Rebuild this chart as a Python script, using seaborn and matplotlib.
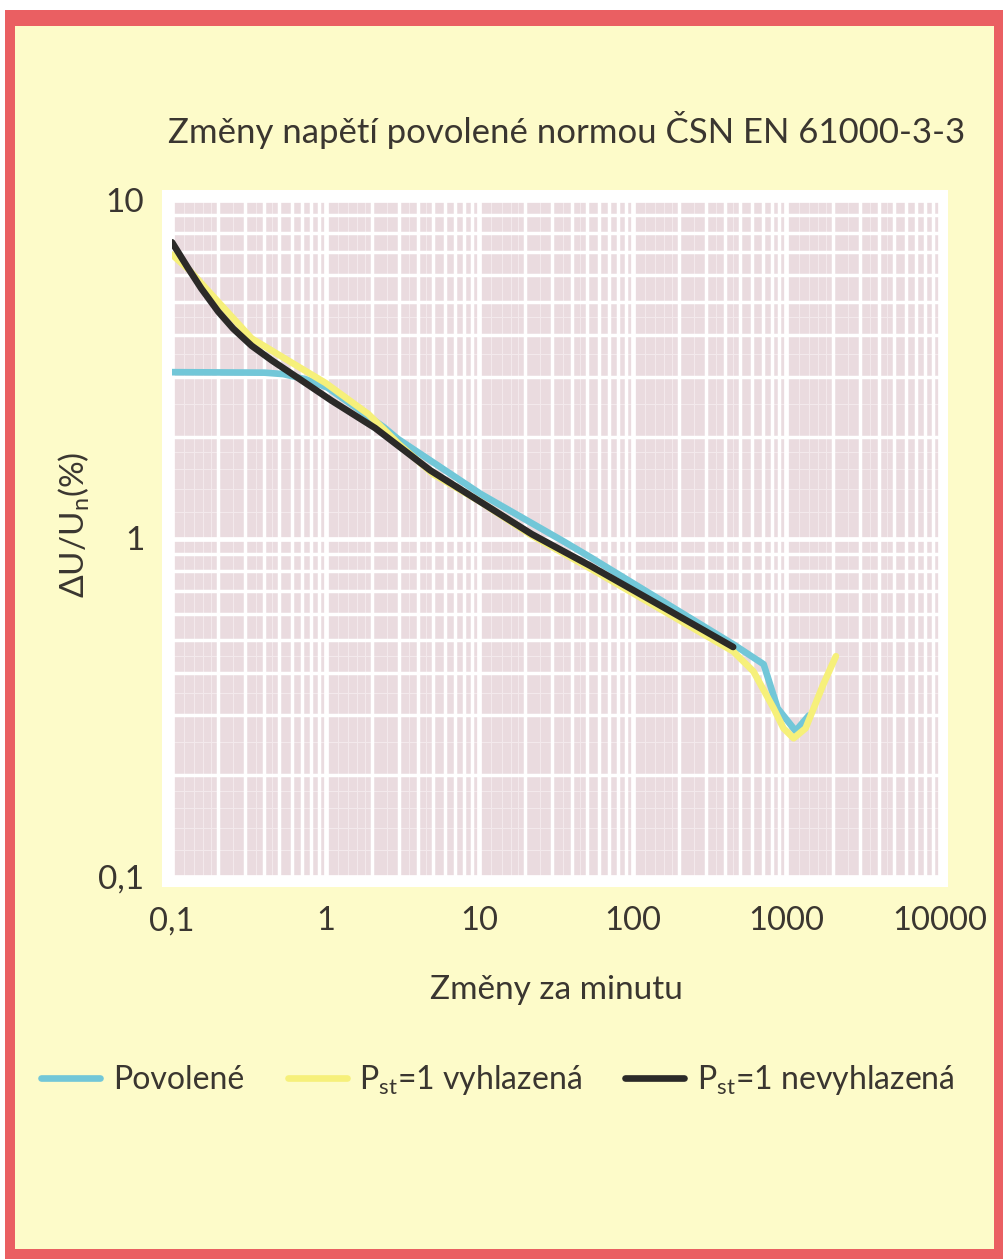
import numpy as np
import pandas as pd
import matplotlib
matplotlib.use("Agg")
import matplotlib.pyplot as plt
from matplotlib.patches import Rectangle
from matplotlib.ticker import FixedLocator, FixedFormatter, NullFormatter, LogLocator
import seaborn as sns

# --- data -------------------------------------------------------------------
# Povolené (permitted) voltage changes
povolene_x = [0.1, 0.4, 0.53, 0.75, 1.03, 2.4, 2.95, 10.2, 35.5, 53, 454, 711, 877, 1148, 1400]
povolene_y = [3.1, 3.09, 3.06, 2.95, 2.79, 2.13, 1.97, 1.355, 0.98, 0.88, 0.486, 0.425, 0.315, 0.27, 0.30]

# Pst = 1, smoothed
vyhlazena_x = [0.1, 0.13, 0.2, 0.33, 0.6, 1.0, 1.9, 3.0, 5.0, 10, 22, 53, 150, 450,
               610, 678, 826, 957, 1114, 1333, 1740, 2100]
vyhlazena_y = [6.9, 6.2, 5.0, 3.9, 3.31, 2.88, 2.33, 1.9, 1.55, 1.29, 1.02, 0.815, 0.62, 0.464,
               0.405, 0.371, 0.315, 0.275, 0.257, 0.275, 0.371, 0.449]

# Pst = 1, not smoothed
nevyhlazena_x = [0.1, 0.127, 0.155, 0.2, 0.25, 0.33, 0.45, 0.6, 1.1, 2.1, 4.8, 10, 22, 53, 150, 450]
nevyhlazena_y = [7.5, 6.3, 5.48, 4.68, 4.17, 3.71, 3.35, 3.07, 2.55, 2.12, 1.59, 1.29, 1.03, 0.83, 0.635, 0.478]

series_names = ["Povolené",
                r"P$_{\mathregular{st}}$=1 vyhlazená",
                r"P$_{\mathregular{st}}$=1 nevyhlazená"]
series_colors = ["#72c7d8", "#f6f07a", "#2b2a28"]

x_ticks = [0.1, 1, 10, 100, 1000, 10000]
x_tick_labels = ["0,1", "1", "10", "100", "1000", "10000"]
y_ticks = [0.1, 1, 10]
y_tick_labels = ["0,1", "1", "10"]

title = "Změny napětí povolené normou ČSN EN 61000-3-3"
x_label = "Změny za minutu"
y_label = r"ΔU/U$_{\mathregular{n}}$(%)"

# --- long-form table ------------------------------------------------------------
frames = []
for name, xs, ys in zip(series_names,
                        [povolene_x, vyhlazena_x, nevyhlazena_x],
                        [povolene_y, vyhlazena_y, nevyhlazena_y]):
    frames.append(pd.DataFrame({"x": xs, "y": ys, "serie": name}))
df = pd.concat(frames, ignore_index=True)

# --- style --------------------------------------------------------------------
sns.set_style("white")
plt.rcParams["font.family"] = ["Lato", "DejaVu Sans"]
plt.rcParams["mathtext.fontset"] = "custom"
plt.rcParams["mathtext.rm"] = "Lato"
text_color = "#3a3630"
page_color = "#fdfbc9"
border_color = "#ea5f62"
plot_face = "#eadbdf"

W, H = 1007, 1259
fig = plt.figure(figsize=(W / 100, H / 100), dpi=100, facecolor="white")

def px_rect(x0, y0, x1, y1, **kw):
    """Rectangle given in pixel coordinates measured from the top-left."""
    return Rectangle((x0 / W, 1 - y1 / H), (x1 - x0) / W, (y1 - y0) / H,
                     transform=fig.transFigure, **kw)

# red frame, pale page, white mat behind the plot
fig.patches.append(px_rect(5, 10, 1003, 1262, facecolor=border_color, edgecolor="none", zorder=-3))
fig.patches.append(px_rect(15, 26, 994, 1249, facecolor=page_color, edgecolor="none", zorder=-2))
fig.patches.append(px_rect(162, 190, 948, 887, facecolor="white", edgecolor="none", zorder=-1))

ax = fig.add_axes([172 / W, 1 - 877 / H, 768 / W, 677 / H])
ax.set_zorder(2)
ax.set_facecolor(plot_face)
ax.set_xscale("log")
ax.set_yscale("log")
ax.set_xlim(0.1, 10000)
ax.set_ylim(0.1, 10)

# fine background ruling between the minor lines
fine_subs = [1.2, 1.4, 1.6, 1.8, 2.5, 3.5, 4.5]
for d in [0.1, 1, 10, 100, 1000]:
    for s in fine_subs:
        ax.axvline(d * s, color="#f3e9ec", lw=0.8, zorder=0.5)
for d in [0.1, 1]:
    for s in fine_subs:
        ax.axhline(d * s, color="#f3e9ec", lw=0.8, zorder=0.5)

ax.xaxis.set_major_locator(FixedLocator(x_ticks))
ax.xaxis.set_major_formatter(FixedFormatter(x_tick_labels))
ax.yaxis.set_major_locator(FixedLocator(y_ticks))
ax.yaxis.set_major_formatter(FixedFormatter(y_tick_labels))
ax.xaxis.set_minor_locator(LogLocator(base=10, subs=np.arange(2, 10), numticks=20))
ax.yaxis.set_minor_locator(LogLocator(base=10, subs=np.arange(2, 10), numticks=20))
ax.xaxis.set_minor_formatter(NullFormatter())
ax.yaxis.set_minor_formatter(NullFormatter())
ax.grid(which="major", color="white", lw=3.4, zorder=1)
ax.grid(which="minor", color="white", lw=2.5, zorder=1)
ax.set_axisbelow(True)
for sp in ax.spines.values():
    sp.set_visible(False)
ax.tick_params(which="both", length=0)
ax.tick_params(axis="x", pad=21, labelsize=23.5, labelcolor=text_color)
ax.tick_params(axis="y", pad=20, labelsize=24, labelcolor=text_color)

sns.lineplot(data=df, x="x", y="y", hue="serie", hue_order=series_names,
             palette=series_colors, sort=False, estimator=None,
             lw=4.8, ax=ax, legend=False, zorder=3)
for line in ax.get_lines():
    line.set_solid_capstyle("round")
    line.set_solid_joinstyle("round")

ax.set_xlabel(x_label, fontsize=24, color=text_color, labelpad=28)
ax.set_ylabel(y_label, fontsize=24, color=text_color)
ax.yaxis.set_label_coords(-0.104, 0.52)

fig.text(567 / W, 1 - 130 / H, title, ha="center", va="center",
         fontsize=25, color=text_color)

handles = [plt.Line2D([], [], color=c, lw=4.8) for c in series_colors]
fig.legend(handles, series_names, loc="center", bbox_to_anchor=(498 / W, 1 - 1080 / H),
           ncol=3, frameon=False, fontsize=23, handlelength=1.85, handletextpad=0.4,
           columnspacing=1.35, labelcolor=text_color)

fig.savefig("out.png", dpi=100, facecolor=fig.get_facecolor())
